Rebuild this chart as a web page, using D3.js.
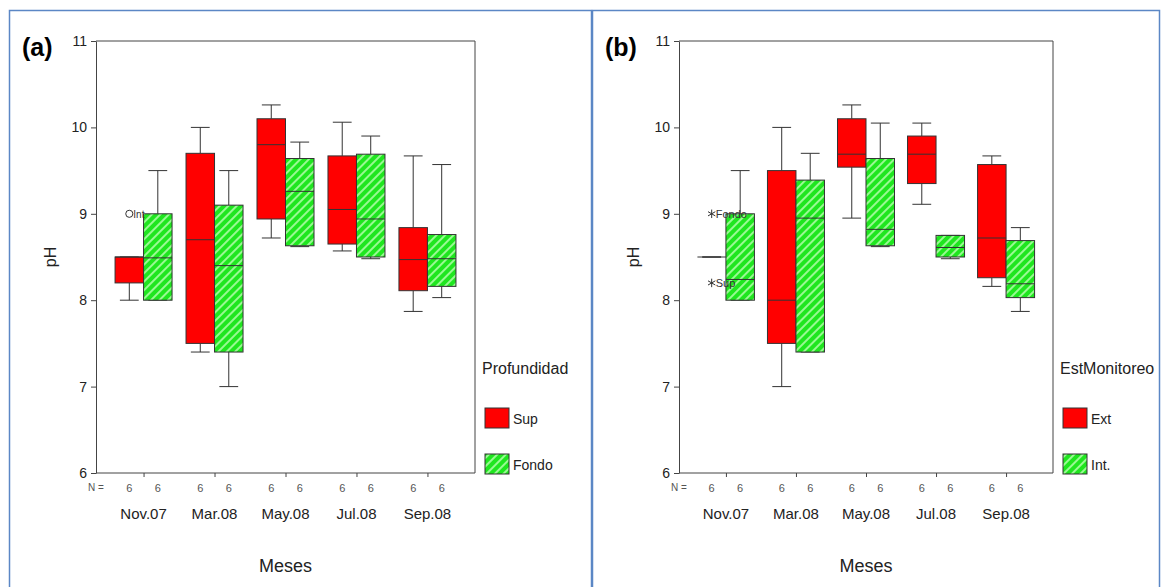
<!DOCTYPE html>
<html>
<head>
<meta charset="utf-8">
<script src="https://cdn.jsdelivr.net/npm/d3@7"></script>
<style>
  body { margin: 0; background: #fff; }
  svg { font-family: Arial, "Liberation Sans", sans-serif; }
</style>
</head>
<body>
<svg width="1168" height="587"></svg>
<script>
// categories and ticks
const months = ["Nov.07", "Mar.08", "May.08", "Jul.08", "Sep.08"];
const yTicks = [6, 7, 8, 9, 10, 11];
const nCounts = [6, 6, 6, 6, 6];

// box stats: [low whisker, Q1, median, Q3, high whisker]
const profSup = [
  [8.0, 8.2, 8.5, 8.5, 8.5],
  [7.4, 7.5, 8.7, 9.7, 10.0],
  [8.72, 8.94, 9.8, 10.1, 10.26],
  [8.57, 8.65, 9.05, 9.67, 10.06],
  [7.87, 8.11, 8.47, 8.84, 9.67]
];
const profFondo = [
  [8.0, 8.0, 8.49, 9.0, 9.5],
  [7.0, 7.4, 8.4, 9.1, 9.5],
  [8.62, 8.63, 9.26, 9.64, 9.83],
  [8.48, 8.5, 8.94, 9.69, 9.9],
  [8.03, 8.16, 8.48, 8.76, 9.57]
];
const profOutliers = [
  { month: "Nov.07", group: 0, value: 9.0, label: "Int" }
];

const estExt = [
  [8.5, 8.5, 8.5, 8.5, 8.5],
  [7.0, 7.5, 8.0, 9.5, 10.0],
  [8.95, 9.54, 9.69, 10.1, 10.26],
  [9.11, 9.35, 9.69, 9.9, 10.05],
  [8.16, 8.26, 8.72, 9.57, 9.67]
];
const estInt = [
  [8.0, 8.0, 8.24, 9.0, 9.5],
  [7.4, 7.4, 8.95, 9.39, 9.7],
  [8.62, 8.63, 8.82, 9.64, 10.05],
  [8.48, 8.5, 8.61, 8.75, 8.75],
  [7.87, 8.03, 8.19, 8.69, 8.84]
];
const estOutliers = [
  { month: "Nov.07", group: 0, value: 9.0, label: "Fondo" },
  { month: "Nov.07", group: 0, value: 8.2, label: "Sup" }
];

const svg = d3.select("svg");

// hatch for the green boxes
const defs = svg.append("defs");
const pat = defs.append("pattern")
  .attr("id", "hatch")
  .attr("patternUnits", "userSpaceOnUse")
  .attr("width", 6).attr("height", 6)
  .attr("patternTransform", "rotate(45)");
pat.append("rect").attr("width", 6).attr("height", 6).attr("fill", "#1fe61f");
pat.append("line")
  .attr("x1", 1).attr("x2", 1).attr("y1", 0).attr("y2", 6)
  .attr("stroke", "#b8ffb0").attr("stroke-width", 1.6);

// panel frames
svg.append("rect").attr("x", 9.5).attr("y", 10.5).attr("width", 582).attr("height", 600)
  .attr("fill", "none").attr("stroke", "#5b87c5").attr("stroke-width", 1.5);
svg.append("rect").attr("x", 592.5).attr("y", 10.5).attr("width", 567).attr("height", 600)
  .attr("fill", "none").attr("stroke", "#5b87c5").attr("stroke-width", 1.5);

const y = d3.scaleLinear().domain([6, 11]).range([473, 41]);

function drawPanel(opt) {
  const g = svg.append("g");
  const x = d3.scalePoint().domain(months).range([opt.left, opt.right]).padding(0.67);
  const sub = d3.scaleBand().domain([0, 1]).range([-28.5, 28.5]);
  const bw = sub.bandwidth();

  // panel letter
  g.append("text").attr("x", opt.letterX).attr("y", 56)
    .attr("font-size", 25).attr("font-weight", "bold")
    .attr("font-family", "'Liberation Sans Narrow', Arial, sans-serif")
    .text(opt.letter);

  // frame top / right
  g.append("path")
    .attr("d", `M${opt.left},41H${opt.right}V473`)
    .attr("fill", "none").attr("stroke", "#444").attr("stroke-width", 1);

  // y axis
  const ya = g.append("g").attr("transform", `translate(${opt.left},0)`)
    .call(d3.axisLeft(y).tickValues(yTicks).tickSize(5).tickSizeOuter(0).tickFormat(d3.format("d")));
  ya.select(".domain").attr("stroke", "#444");
  ya.selectAll(".tick line").attr("stroke", "#444");
  ya.selectAll(".tick text").attr("font-size", 14).attr("fill", "#222").attr("x", -9)
    .attr("font-family", "Arial, 'Liberation Sans', sans-serif");

  // x axis
  const xa = g.append("g").attr("transform", "translate(0,473)")
    .call(d3.axisBottom(x).tickSize(4).tickSizeOuter(0).tickFormat(""));
  xa.select(".domain").attr("stroke", "#444").attr("d", `M${opt.left},0H${opt.right}`);
  xa.selectAll(".tick line").attr("stroke", "#444");

  // N = labels
  g.append("text").attr("x", opt.left - 8).attr("y", 491)
    .attr("font-size", 10).attr("fill", "#555").text("N =");
  months.forEach((m, i) => {
    [0, 1].forEach(k => {
      g.append("text").attr("x", x(m) + sub(k) + bw / 2).attr("y", 492)
        .attr("text-anchor", "middle").attr("font-size", 11).attr("fill", "#555")
        .text(nCounts[i]);
    });
  });

  // month labels
  g.selectAll(".month").data(months).join("text")
    .attr("x", d => x(d)).attr("y", 519)
    .attr("text-anchor", "middle").attr("font-size", 15).attr("fill", "#222")
    .text(d => d);

  // axis titles
  g.append("text").attr("x", (opt.left + opt.right) / 2).attr("y", 572)
    .attr("text-anchor", "middle").attr("font-size", 18).attr("fill", "#222").text("Meses");
  g.append("text")
    .attr("transform", `translate(${opt.left - 40},257) rotate(-90)`)
    .attr("text-anchor", "middle").attr("font-size", 16).attr("fill", "#222").text("pH");

  // boxes
  const series = [
    { stats: opt.s0, fill: "#ff0000" },
    { stats: opt.s1, fill: "url(#hatch)" }
  ];
  series.forEach((s, k) => {
    s.stats.forEach((st, i) => {
      const cx = x(months[i]) + sub(k) + bw / 2;
      const x0 = x(months[i]) + sub(k);
      const [lo, q1, med, q3, hi] = st;
      const cap = bw * 0.33;
      const bg = g.append("g").attr("stroke", "#333").attr("stroke-width", 1);
      bg.append("line").attr("x1", cx).attr("x2", cx).attr("y1", y(hi)).attr("y2", y(q3));
      bg.append("line").attr("x1", cx).attr("x2", cx).attr("y1", y(q1)).attr("y2", y(lo));
      bg.append("line").attr("x1", cx - cap).attr("x2", cx + cap).attr("y1", y(hi)).attr("y2", y(hi));
      bg.append("line").attr("x1", cx - cap).attr("x2", cx + cap).attr("y1", y(lo)).attr("y2", y(lo));
      bg.append("rect").attr("x", x0).attr("width", bw)
        .attr("y", y(q3)).attr("height", Math.max(0, y(q1) - y(q3)))
        .attr("fill", s.fill);
      bg.append("line").attr("x1", x0).attr("x2", x0 + bw).attr("y1", y(med)).attr("y2", y(med));
    });
  });

  // outliers
  opt.outliers.forEach(o => {
    const cx = x(o.month) + sub(o.group) + bw / 2;
    const sym = opt.symbol === "circle"
      ? d3.symbol(d3.symbolCircle, 40)
      : d3.symbol(d3.symbolAsterisk || d3.symbolTimes, 50);
    g.append("path").attr("transform", `translate(${cx},${y(o.value)})`)
      .attr("d", sym()).attr("fill", "none").attr("stroke", "#333").attr("stroke-width", 1);
    g.append("text").attr("x", cx + 4).attr("y", y(o.value) + 4)
      .attr("font-size", opt.symbol === "circle" ? 10 : 11).attr("fill", "#333")
      .text(o.label);
  });

  // legend
  const lx = opt.right + 7;
  g.append("text").attr("x", opt.right + 7).attr("y", 374)
    .attr("font-size", 16).attr("fill", "#222").text(opt.legendTitle);
  opt.legendLabels.forEach((lab, k) => {
    const ly = 408 + k * 46;
    g.append("rect").attr("x", lx + 3).attr("y", ly).attr("width", 24).attr("height", 20)
      .attr("fill", series[k].fill).attr("stroke", "#333");
    g.append("text").attr("x", lx + 31).attr("y", ly + 16)
      .attr("font-size", 14).attr("fill", "#222").text(lab);
  });
}

drawPanel({
  letter: "(a)", letterX: 22, left: 96, right: 475,
  s0: profSup, s1: profFondo, outliers: profOutliers, symbol: "circle",
  legendTitle: "Profundidad", legendLabels: ["Sup", "Fondo"]
});
drawPanel({
  letter: "(b)", letterX: 605, left: 679, right: 1053,
  s0: estExt, s1: estInt, outliers: estOutliers, symbol: "asterisk",
  legendTitle: "EstMonitoreo", legendLabels: ["Ext", "Int."]
});
</script>
</body>
</html>
